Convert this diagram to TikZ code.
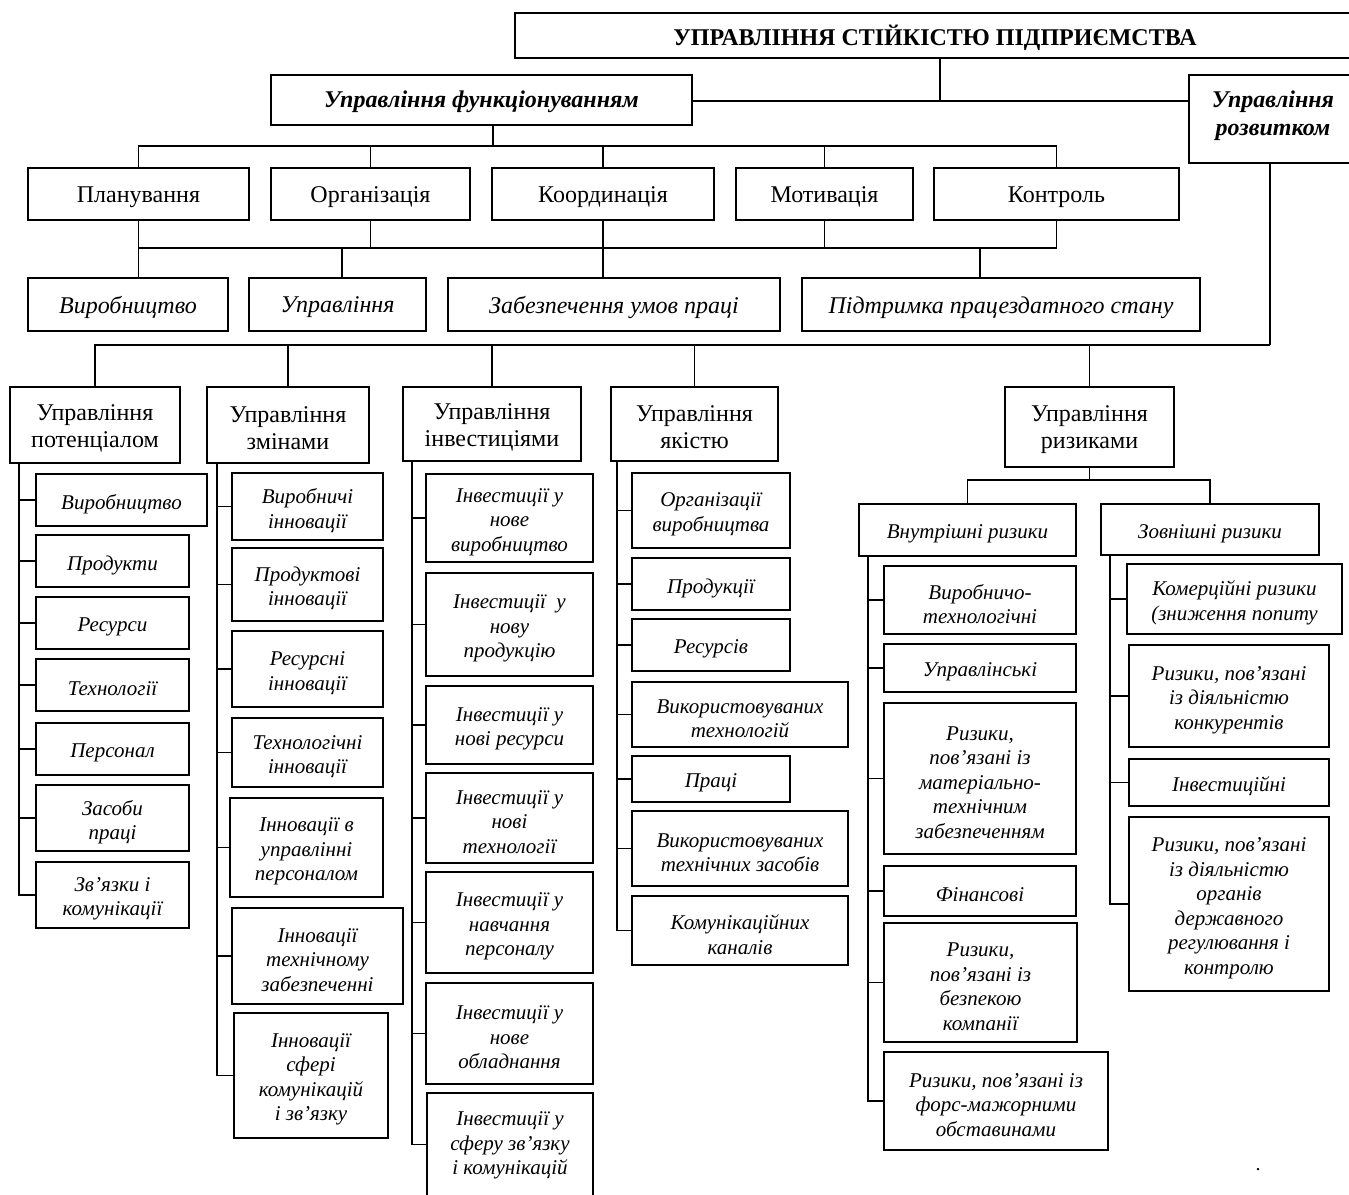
\documentclass[tikz,border=0pt]{standalone}
\usepackage{fontspec}
\setmainfont{Liberation Serif}
\begin{document}
\begin{tikzpicture}[x=1pt,y=-1pt,line width=1.9pt,
  box/.style={draw,rectangle,inner sep=0pt,outer sep=0pt},
  txt/.style={inner sep=0pt,align=center},
  main/.style={font=\fontsize{24}{27}\selectfont,yshift=-3pt},
  head/.style={font=\fontsize{24}{28}\selectfont\bfseries,yshift=-2pt},
  headit/.style={font=\fontsize{24}{28}\selectfont\bfseries\itshape,yshift=-2pt},
  area/.style={font=\fontsize{24}{27}\selectfont\itshape,yshift=-3pt},
  item/.style={font=\fontsize{21}{24.5}\selectfont\itshape,yshift=-4pt}]
% a framed box given by its corners, with its text set at its centre
\newcommand\bx[7][]{%
  \node[box,minimum width={#5-#3},minimum height={#6-#4}] (#2) at ({(#3+#5)/2},{(#4+#6)/2}) {};
  \node[txt,#1] (#2-t) at (#2.center) {#7};}
\useasboundingbox (0,0) rectangle (1349,1194);
\clip (0,0) rectangle (1349,1194);

% top level
\bx[head]{title}{515}{13}{1355}{58}{УПРАВЛІННЯ СТІЙКІСТЮ ПІДПРИЄМСТВА}
\bx[headit]{func}{271}{75}{692}{125}{Управління функціонуванням}
\bx[headit,yshift=5pt]{razv}{1189}{75}{1357}{163}{Управління\\розвитком}

% management functions
\bx[main]{plan}{28}{168}{249}{220}{Планування}
\bx[main]{org}{271}{168}{470}{220}{Організація}
\bx[main]{coord}{492}{168}{714}{220}{Координація}
\bx[main]{motiv}{736}{168}{913}{220}{Мотивація}
\bx[main]{contr}{934}{168}{1179}{220}{Контроль}

% areas of functioning
\bx[area]{vyr}{28}{278}{228}{331}{Виробництво}
\bx[area]{upr}{249}{278}{426}{331}{Управління}
\bx[area]{zab}{448}{278}{780}{331}{Забезпечення умов праці}
\bx[area]{pidt}{802}{278}{1200}{331}{Підтримка працездатного стану}

% development directions
\bx[main]{pot}{10}{387}{180}{463}{Управління\\потенціалом}
\bx[main]{zmin}{207}{387}{369}{463}{Управління\\змінами}
\bx[main]{inv}{403}{387}{581}{461}{Управління\\інвестиціями}
\bx[main]{yak}{611}{387}{778}{461}{Управління\\якістю}
\bx[main]{risk}{1005}{387}{1174}{467}{Управління\\ризиками}

\bx[item]{inner}{859}{504}{1076}{556}{Внутрішні ризики}
\bx[item]{outer}{1101}{504}{1319}{555}{Зовнішні ризики}

% potential
\bx[item]{p1}{36}{474}{207}{526}{Виробництво}
\bx[item]{p2}{36}{535}{189}{587}{Продукти}
\bx[item]{p3}{36}{597}{189}{649}{Ресурси}
\bx[item]{p4}{36}{659}{189}{711}{Технології}
\bx[item]{p5}{36}{723}{189}{775}{Персонал}
\bx[item]{p6}{36}{785}{189}{851}{Засоби\\праці}
\bx[item]{p7}{36}{862}{189}{928}{Зв’язки і\\комунікації}

% changes
\bx[item]{z1}{232}{473}{383}{540}{Виробничі\\інновації}
\bx[item]{z2}{232}{548}{383}{621}{Продуктові\\інновації}
\bx[item]{z3}{232}{631}{383}{707}{Ресурсні\\інновації}
\bx[item]{z4}{232}{718}{383}{787}{Технологічні\\інновації}
\bx[item]{z5}{230}{798}{383}{897}{Інновації в\\управлінні\\персоналом}
\bx[item]{z6}{232}{908}{403}{1004}{Інновації\\технічному\\забезпеченні}
\bx[item]{z7}{234}{1013}{388}{1138}{Інновації\\сфері\\комунікацій\\і зв’язку}

% investments
\bx[item]{i1}{426}{474}{593}{562}{Інвестиції у\\нове\\виробництво}
\bx[item]{i2}{426}{573}{593}{676}{Інвестиції\ \ у\\нову\\продукцію}
\bx[item]{i3}{426}{686}{593}{764}{Інвестиції у\\нові ресурси}
\bx[item]{i4}{426}{773}{593}{863}{Інвестиції у\\нові\\технології}
\bx[item]{i5}{426}{872}{593}{973}{Інвестиції у\\навчання\\персоналу}
\bx[item]{i6}{426}{983}{593}{1084}{Інвестиції у\\нове\\обладнання}
\bx[item,yshift=3pt]{i7}{427}{1093}{593}{1196}{Інвестиції у\\сферу зв’язку\\і комунікацій}

% quality
\bx[item]{y1}{632}{473}{790}{548}{Організації\\виробництва}
\bx[item]{y2}{632}{558}{790}{610}{Продукції}
\bx[item]{y3}{632}{619}{790}{671}{Ресурсів}
\bx[item]{y4}{632}{682}{848}{747}{Використовуваних\\технологій}
\bx[item]{y5}{632}{756}{790}{802}{Праці}
\bx[item]{y6}{632}{811}{848}{886}{Використовуваних\\технічних засобів}
\bx[item]{y7}{632}{896}{848}{965}{Комунікаційних\\каналів}

% internal risks
\bx[item]{r1}{884}{566}{1076}{634}{Виробничо-\\технологічні}
\bx[item]{r2}{884}{644}{1076}{692}{Управлінські}
\bx[item]{r3}{884}{703}{1076}{854}{Ризики,\\пов’язані із\\матеріально-\\технічним\\забезпеченням}
\bx[item]{r4}{884}{866}{1076}{916}{Фінансові}
\bx[item]{r5}{884}{923}{1077}{1042}{Ризики,\\пов’язані із\\безпекою\\компанії}
\bx[item]{r6}{884}{1052}{1108}{1150}{Ризики, пов’язані із\\форс-мажорними\\обставинами}

% external risks
\bx[item]{e1}{1127}{564}{1342}{634}{Комерційні ризики\\(зниження попиту}
\bx[item]{e2}{1129}{645}{1329}{747}{Ризики, пов’язані\\із діяльністю\\конкурентів}
\bx[item]{e3}{1129}{759}{1329}{806}{Інвестиційні}
\bx[item]{e4}{1129}{817}{1329}{991}{Ризики, пов’язані\\із діяльністю\\органів\\державного\\регулювання і\\контролю}

\node[font=\fontsize{20}{24}\selectfont] (dot) at (1258,1170) {.};

% junction points
\coordinate (tj) at (940,101);
\coordinate (fb) at (493,146);
\coordinate (lb) at (604,248);
\coordinate (lu) at (342,248);
\coordinate (lp) at (980,248);
\coordinate (rb) at (1270,345);
\coordinate (rj) at (1089.5,480);
\coordinate (potS) at (19,463);
\coordinate (zminS) at (217,463);
\coordinate (invS) at (412,461);
\coordinate (yakS) at (617,461);
\coordinate (innS) at (868,556);
\coordinate (outS) at (1110,555);

% top connectors
\draw (title.south -| tj) -- (tj);
\draw (func.east |- tj) -- (razv.west |- tj);
\draw (func.south -| fb) -- (fb);
\foreach \n in {plan,org,coord,motiv,contr} \draw (fb) -| (\n.north);
\foreach \n in {plan,org,coord,motiv,contr} \draw (\n.south) |- (lb);
\draw (plan.south) -- (plan.south |- vyr.north);
\draw (coord.south) -- (coord.south |- zab.north);
\draw (lu) -- (lu |- upr.north);
\draw (lp) -- (lp |- pidt.north);

% development branch
\draw (razv.south -| rb) -- (rb);
\foreach \n in {pot,zmin,inv,yak,risk} \draw (rb) -| (\n.north);
\draw (risk.south) -- (rj);
\draw (rj) -| (inner.north);
\draw (rj) -| (outer.north);

% spines with sub-items
\foreach \n in {p1,p2,p3,p4,p5,p6,p7} \draw (potS) |- (\n.west);
\foreach \n in {z1,z2,z3,z4,z5,z6,z7} \draw (zminS) |- (\n.west);
\foreach \n in {i1,i2,i3,i4,i5,i6,i7} \draw (invS) |- (\n.west);
\foreach \n in {y1,y2,y3,y4,y5,y6,y7} \draw (yakS) |- (\n.west);
\foreach \n in {r1,r2,r3,r4,r5,r6} \draw (innS) |- (\n.west);
\foreach \n in {e1,e2,e3,e4} \draw (outS) |- (\n.west);
\end{tikzpicture}
\end{document}
